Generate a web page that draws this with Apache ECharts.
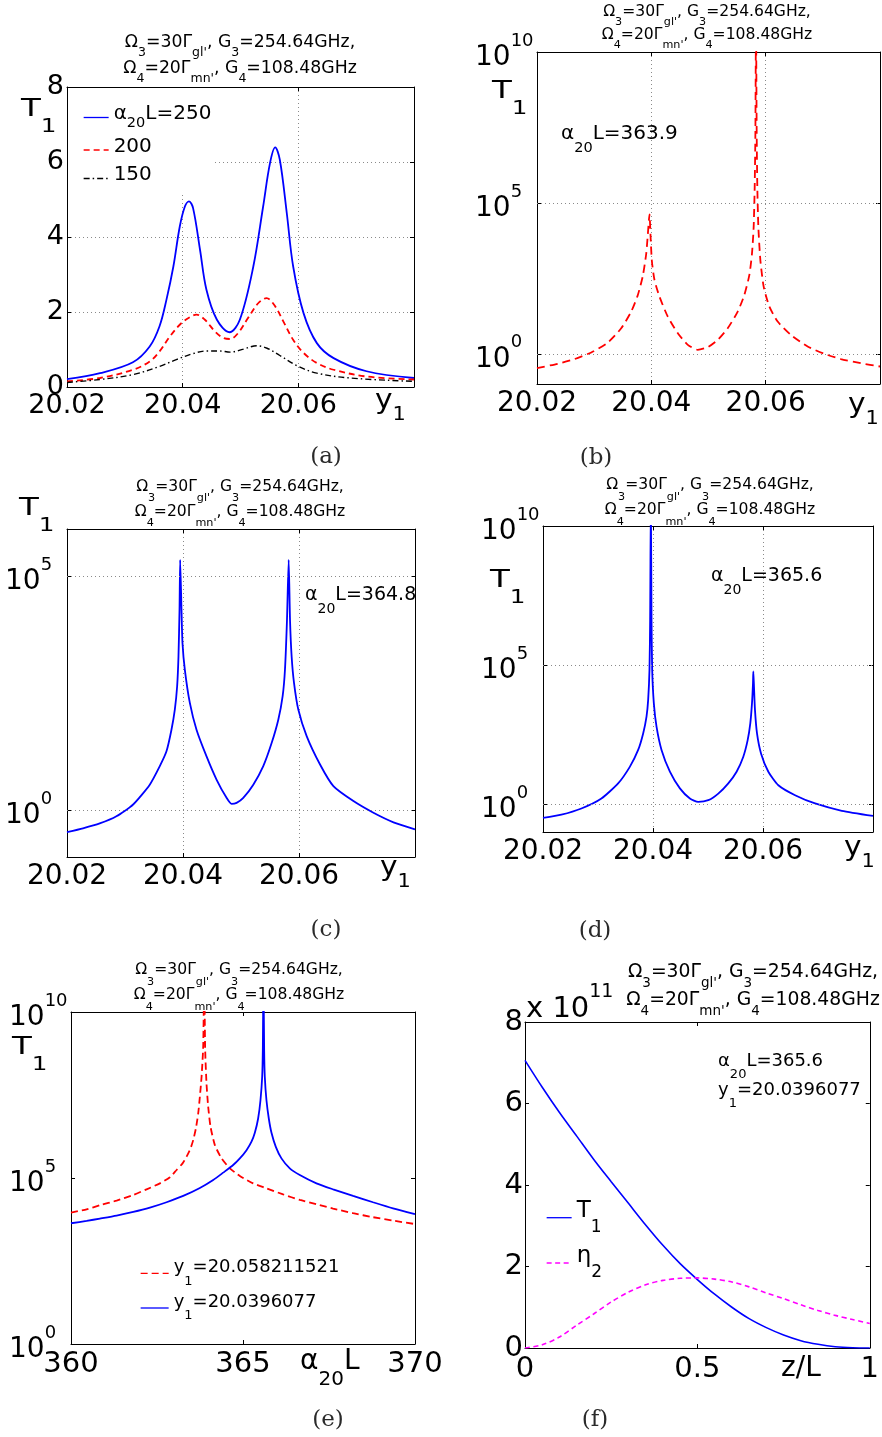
<!DOCTYPE html>
<html><head><meta charset="utf-8">
<script src="https://cdn.jsdelivr.net/npm/echarts@6/dist/echarts.min.js"></script>
<style>html,body{margin:0;padding:0;background:#fff}#c{width:882px;height:1437px}</style>
</head><body><div id="c"></div>
<script>
const FONT = "'DejaVu Sans', sans-serif";
const SERIF = "'DejaVu Serif', serif";

// ===== (a) T1 vs y1, alpha20L = 250 / 200 / 150 (linear) =====
const aX250 = [20.02,20.0257,20.0314,20.0343,20.036,20.0372,20.0384,20.0395,20.0404,20.0411,20.0418,20.043,20.0441,20.0459,20.0481,20.0499,20.0522,20.0539,20.0551,20.056,20.0568,20.058,20.0591,20.0609,20.0632,20.0661,20.0718,20.08];
const aT250 = [0.21,0.37,0.66,1.08,1.62,2.33,3.22,4.28,4.82,4.95,4.77,3.66,2.6,1.8,1.46,1.8,3.2,4.8,5.97,6.39,6.06,4.64,3.22,1.97,1.17,0.77,0.42,0.24];
const aX200 = [20.02,20.0257,20.0314,20.0343,20.036,20.0378,20.0395,20.041,20.0424,20.0438,20.0456,20.047,20.0482,20.0496,20.0513,20.0531,20.0545,20.056,20.0574,20.0591,20.0609,20.0632,20.0661,20.0718,20.08];
const aT200 = [0.15,0.24,0.46,0.68,0.95,1.35,1.66,1.84,1.93,1.8,1.48,1.31,1.28,1.44,1.84,2.24,2.37,2.15,1.75,1.26,0.91,0.64,0.46,0.28,0.2];
const aX150 = [20.02,20.0257,20.0314,20.036,20.0389,20.0418,20.0441,20.0464,20.0482,20.0505,20.0528,20.0545,20.0568,20.06,20.0632,20.0689,20.08];
const aT150 = [0.12,0.2,0.33,0.55,0.73,0.89,0.96,0.96,0.93,1.01,1.1,1.04,0.84,0.55,0.37,0.24,0.15];

// ===== (b) alpha20L = 363.9 (log) =====
const bX = [20.02,20.02367,20.02658,20.02949,20.0324,20.03473,20.03648,20.03764,20.03852,20.0391,20.03939,20.03968,20.03985,20.04009,20.04055,20.04143,20.04288,20.04463,20.04638,20.04812,20.04987,20.05162,20.05336,20.05511,20.05627,20.05715,20.05761,20.0579,20.05808,20.0582,20.05831,20.05843,20.05854,20.05872,20.05907,20.05965,20.06064,20.0621,20.06443,20.06734,20.07025,20.07316,20.07665,20.08];
const bT = [0.336,0.47,0.67,1.11,2.37,7.0,25,89,390,2030,9200,42000,9200,1210,280,78,17,4.8,1.98,1.36,1.66,2.9,7.0,25,89,410,2120,16000,3.4e5,2e7,1e11,2e7,3.4e5,16000,1280,168,37,11.7,4.2,1.75,1.0,0.67,0.49,0.38];

// ===== (c) alpha20L = 364.8 (log) =====
const cX = [20.02,20.02276,20.02564,20.02852,20.0314,20.03427,20.036,20.03715,20.03801,20.03859,20.03899,20.03922,20.0394,20.03951,20.03974,20.03991,20.04032,20.04118,20.04233,20.04406,20.04578,20.04751,20.04837,20.04924,20.05039,20.05212,20.05384,20.05528,20.05643,20.05718,20.05758,20.05793,20.05822,20.05845,20.05873,20.05914,20.05988,20.06132,20.06363,20.06593,20.06938,20.07283,20.07629,20.08];
const cT = [0.34,0.41,0.52,0.74,1.32,3.5,8.7,18,52,140,440,1900,18900,2.2e5,18900,3700,990,194,52,14,4.5,1.83,1.36,1.43,1.83,3.5,8.7,27,85,270,990,11600,2.2e5,11600,1900,520,140,38,9.4,3.25,1.56,0.88,0.55,0.39];

// ===== (d) alpha20L = 365.6 (log) =====
const dX = [20.02,20.02334,20.02698,20.03062,20.03366,20.03578,20.0373,20.03821,20.03882,20.03912,20.03936,20.03948,20.03961,20.03973,20.03985,20.04015,20.04064,20.04155,20.04307,20.04489,20.04671,20.04822,20.05005,20.05187,20.05369,20.0552,20.05642,20.05721,20.05769,20.058,20.05818,20.05824,20.05836,20.05854,20.05891,20.05964,20.06097,20.06279,20.06583,20.06947,20.07433,20.08];
const dT = [0.32,0.42,0.7,1.6,5.6,22,89,350,1410,5600,68000,4.3e6,1e11,4.3e6,68000,4300,610,89,14.7,3.7,1.6,1.21,1.39,2.4,5.6,14.7,51,200,810,4300,22000,59000,17000,2450,350,67,14.7,4.8,2.1,1.06,0.58,0.38];

// ===== (e) T1 vs alpha20L (log) =====
const eXr = [360,360.455,360.842,361.326,361.81,362.197,362.585,362.875,363.069,363.243,363.359,363.475,363.553,363.63,363.698,363.746,363.795,363.843,363.872,363.901,363.939,363.988,364.056,364.182,364.376,364.618,364.908,365.295,365.682,366.167,366.651,367.135,367.619,368.2,368.78,369.361,370];
const eTr = [9100,11400,15100,20800,30800,45600,69000,1.05e5,1.74e5,2.76e5,4.4e5,7.8e5,1.39e6,3.1e6,8.8e6,2.8e7,1.1e8,8.9e8,1e11,7e8,7e7,1.4e7,3.5e6,9.8e5,3.9e5,1.95e5,1.15e5,69000,49000,32000,21800,16100,12000,8700,6600,5200,4100];
const eXb = [360,360.455,360.842,361.326,361.81,362.294,362.778,363.262,363.746,364.134,364.424,364.714,364.908,365.102,365.247,365.344,365.44,365.508,365.557,365.576,365.595,365.615,365.634,365.682,365.75,365.828,365.954,366.118,366.36,366.651,367.135,367.619,368.2,368.78,369.361,370];
const eTb = [4340,5100,6000,7400,9500,12800,18600,28800,50000,87000,1.45e5,2.46e5,3.9e5,6.9e5,1.24e6,2.3e6,6.2e6,2.2e7,1.1e8,7e8,1e11,7e8,1.1e8,2.2e7,6.2e6,2.3e6,8.7e5,3.9e5,1.95e5,1.23e5,69000,45600,28800,18600,12200,8100];

// ===== (f) T1 and eta2 vs z/L (units of 1e11) =====
const fZ = [0,0.05,0.1,0.15,0.2,0.25,0.3,0.35,0.4,0.45,0.5,0.55,0.6,0.65,0.7,0.75,0.8,0.85,0.9,0.95,1.0];
const fT1 = [7.06,6.4,5.78,5.2,4.62,4.08,3.55,3.02,2.52,2.07,1.68,1.32,1.0,0.72,0.5,0.32,0.18,0.09,0.03,0.005,0];
const fEta = [0,0.08,0.27,0.56,0.84,1.13,1.37,1.55,1.66,1.71,1.72,1.69,1.62,1.5,1.35,1.21,1.06,0.92,0.8,0.7,0.6];

// tick labels shown on log axes
const logLab10 = [1,1e5,1e10], logLab6 = [1,1e5];

const zip = (xs, ys) => xs.map((x, i) => [x, ys[i]]);

const GRID_LINE = {type:[1,3], color:'#8a8a8a', width:1};
const AX_LINE = {show:true, onZero:false, lineStyle:{color:'#000', width:1}};
const TICK = {show:true, inside:true, length:4, lineStyle:{color:'#000'}};

const grids = [
  {left:67, top:87, width:347, height:300},
  {left:537, top:52, width:343, height:332},
  {left:67, top:529, width:348, height:328},
  {left:543, top:526, width:330, height:306},
  {left:71, top:1012, width:344, height:332},
  {left:525, top:1022, width:349, height:326}
];

const xAxis = [], yAxis = [];
function xPair(gi, min, max, interval, fs, margin, fmt, showMax, split) {
  xAxis.push({gridIndex:gi, type:'value', position:'bottom', min, max, interval,
    axisLine:AX_LINE, axisTick:TICK,
    axisLabel:{show:true, fontFamily:FONT, fontSize:fs, color:'#000', margin, formatter:fmt, showMinLabel:true, showMaxLabel:showMax},
    splitLine:{show:split, lineStyle:GRID_LINE}});
  xAxis.push({gridIndex:gi, type:'value', position:'top', min, max, interval,
    axisLine:AX_LINE, axisTick:TICK, axisLabel:{show:false}, splitLine:{show:false}});
}
function yLinPair(gi, fs, margin, split) {
  yAxis.push({gridIndex:gi, type:'value', position:'left', min:0, max:8, interval:2,
    axisLine:AX_LINE, axisTick:TICK,
    axisLabel:{show:true, fontFamily:FONT, fontSize:fs, color:'#000', margin},
    splitLine:{show:split, lineStyle:GRID_LINE}});
  yAxis.push({gridIndex:gi, type:'value', position:'right', min:0, max:8, interval:2,
    axisLine:AX_LINE, axisTick:TICK, axisLabel:{show:false}, splitLine:{show:false}});
}
function yLogPair(gi, min, max, labVals, fs, sfs, margin) {
  const rich = {
    b:{fontFamily:FONT, fontSize:fs, color:'#000', lineHeight:40, verticalAlign:'bottom'},
    s:{fontFamily:FONT, fontSize:sfs, color:'#000', lineHeight:40, verticalAlign:'top'}
  };
  yAxis.push({gridIndex:gi, type:'log', logBase:10, position:'left', min, max,
    axisLine:AX_LINE, axisTick:Object.assign({customValues:labVals}, TICK),
    axisLabel:{show:true, customValues:labVals, align:'left', margin,
      formatter: v => '{b|10}{s|' + Math.round(Math.log10(v)) + '}', rich},
    splitLine:{show:false}, minorTick:{show:false}, minorSplitLine:{show:false}});
  yAxis.push({gridIndex:gi, type:'log', logBase:10, position:'right', min, max,
    axisLine:AX_LINE, axisTick:Object.assign({customValues:labVals}, TICK),
    axisLabel:{show:false}, splitLine:{show:false}});
}
const fmt2 = v => v.toFixed(2);
xPair(0, 20.02, 20.08, 0.02, 27, 5, fmt2, false, true);   yLinPair(0, 27, 3, true);
xPair(1, 20.02, 20.08, 0.02, 28, 6, fmt2, false, true);   yLogPair(1, 0.1, 1e10, logLab10, 28, 18, 62);
xPair(2, 20.02, 20.08, 0.02, 28, 6, fmt2, false, true);   yLogPair(2, 0.1, 1e6, logLab6, 28, 18, 62);
xPair(3, 20.02, 20.08, 0.02, 28, 6, fmt2, false, true);   yLogPair(3, 0.1, 1e10, logLab10, 28, 18, 62);
xPair(4, 360, 370, 5, 29, 6, v => String(v), true, false); yLogPair(4, 1, 1e10, logLab10, 28, 18, 62);
xPair(5, 0, 1, 0.5, 29, 7, v => String(v), true, false);  yLinPair(5, 29, 2, false);

const gridML = {silent:true, symbol:['none','none'], label:{show:false}, animation:false,
  lineStyle:{type:[1,3], color:'#8a8a8a', width:1}, emphasis:{disabled:true},
  data:[{yAxis:1},{yAxis:100000}]};

function ln(name, gi, data, color, type, width, smooth, extra) {
  return Object.assign({type:'line', name, xAxisIndex:2*gi, yAxisIndex:2*gi, data,
    symbol:'none', showSymbol:false, smooth: smooth || false,
    lineStyle:{color, width, type}, itemStyle:{color}, clip:true, animation:false, z:3,
    emphasis:{disabled:true}}, extra || {});
}
const series = [
  ln('a250', 0, zip(aX250, aT250), '#0000ff', 'solid', 1.8, 0.35),
  ln('a200', 0, zip(aX200, aT200), '#ff0000', [6,4], 1.8, 0.35),
  ln('a150', 0, zip(aX150, aT150), '#000000', [6,3,1.5,3], 1.4, 0.35),
  ln('b', 1, zip(bX, bT), '#ff0000', [8,5], 1.8, 0.2, {markLine:gridML}),
  ln('c', 2, zip(cX, cT), '#0000ff', 'solid', 1.8, 0.2, {markLine:gridML}),
  ln('d', 3, zip(dX, dT), '#0000ff', 'solid', 1.8, 0.2, {markLine:gridML}),
  ln('e1', 4, zip(eXr, eTr), '#ff0000', [7,4], 1.8, 0.2),
  ln('e2', 4, zip(eXb, eTb), '#0000ff', 'solid', 1.8, 0.2),
  ln('fT', 5, zip(fZ, fT1), '#0000ff', 'solid', 1.6, 0.3),
  ln('fE', 5, zip(fZ, fEta), '#ff00ff', [5,3.5], 1.6, 0.3)
];

const LEG = {
  a250:'{t|α}{u|20}{t|L=250}', a200:'{t|200}', a150:'{t|150}',
  e1:'{t|y}{u|1}{t|=20.058211521}', e2:'{t|y}{u|1}{t|=20.0396077}',
  fT:'{t|T}{u|1}', fE:'{t|η}{u|2}'
};
function legRich(B, S, L) {
  return {fontFamily:FONT, fontSize:B, color:'#000', rich:{
    t:{fontFamily:FONT, fontSize:B, lineHeight:L, verticalAlign:'top', color:'#000'},
    u:{fontFamily:FONT, fontSize:S, lineHeight:L, verticalAlign:'bottom', color:'#000'}}};
}
function leg(name, left, top, w, B, S, L) {
  return {orient:'vertical', selectedMode:false, formatter: n => LEG[n], itemHeight:10, itemWidth:w,
    itemStyle:{opacity:0}, lineStyle:{width:1.3}, z:6, left, top, padding:0, data:[name], textStyle:legRich(B, S, L)};
}
const legend = [
  leg('a250', 83, 104, 25, 20, 14.5, 27),
  leg('a200', 83, 136.5, 25, 20, 14.5, 27),
  leg('a150', 83, 165, 25, 20, 14.5, 27),
  leg('e1', 140, 1258.8, 28, 18, 13, 29),
  leg('e2', 140, 1293.5, 28, 18, 13, 29),
  leg('fT', 546, 1199.7, 25, 23, 17, 36),
  leg('fE', 546, 1245, 25, 23, 17, 36)
];

// ---- text helpers (graphic) ----
function subText(x, top, text, B, S, L, align, sx) {
  return {type:'text', x, y:top, z:100, silent:true, scaleX: sx || 1, style:{text, align:align||'left', verticalAlign:'top',
    textAlign:align||'left', textVerticalAlign:'top', fill:'#000', fontFamily:FONT, fontSize:B,
    rich:{t:{fontFamily:FONT, fontSize:B, lineHeight:L, verticalAlign:'top', fill:'#000'},
          u:{fontFamily:FONT, fontSize:S, lineHeight:L, verticalAlign:'bottom', fill:'#000'}}}};
}
function supText(x, top, text, B, S, L) {
  return {type:'text', x, y:top, z:100, silent:true, style:{text, align:'left', verticalAlign:'top',
    textAlign:'left', textVerticalAlign:'top', fill:'#000', fontFamily:FONT, fontSize:B,
    rich:{b:{fontFamily:FONT, fontSize:B, lineHeight:L, verticalAlign:'bottom', fill:'#000'},
          s:{fontFamily:FONT, fontSize:S, lineHeight:L, verticalAlign:'top', fill:'#000'}}}};
}
const TITLE = "{t|Ω}{u|3}{t|=30Γ}{u|gl'}{t|, G}{u|3}{t|=254.64GHz,}\n{t|Ω}{u|4}{t|=20Γ}{u|mn'}{t|, G}{u|4}{t|=108.48GHz}";
function title(cx, line1c, B, S, L) { return subText(cx, line1c - B/2, TITLE, B, S, L, 'center'); }
function caption(cx, cy, t) {
  return {type:'text', x:cx, y:cy, z:100, silent:true, style:{text:t, align:'center', verticalAlign:'middle',
    textAlign:'center', textVerticalAlign:'middle', fill:'#2a2a2a', fontFamily:SERIF, fontSize:23}};
}
const T1 = '{t|T}{u|1}', Y1 = '{t|y}{u|1}';
const graphic = [
  // white legend background in (a)
  {type:'rect', z:1, silent:true, shape:{x:68, y:88, width:145, height:105}, style:{fill:'#fff'}},
  title(240, 42.7, 17.3, 12.5, 25.6),
  title(707, 11.7, 15.6, 11.2, 23.5),
  title(240, 486.7, 15.6, 11.2, 25),
  title(710, 485, 15.6, 11.2, 25),
  title(239, 970, 15.6, 11.2, 25),
  title(753, 971.7, 18.8, 13.5, 28.3),
  subText(21, 109 - 12.5, T1, 25, 19, 40, 'left', 1.3),
  subText(492, 91 - 12.5, T1, 25, 19, 40, 'left', 1.3),
  subText(19, 508 - 12.5, T1, 25, 19, 40, 'left', 1.3),
  subText(490, 580 - 12.5, T1, 25, 19, 40, 'left', 1.3),
  subText(12, 1047.5 - 12.5, T1, 25, 19, 40, 'left', 1.3),
  subText(375, 401 - 13.5, Y1, 27, 19, 37, 'left', 1.1),
  subText(848, 405 - 13.5, Y1, 27, 19, 37, 'left', 1.1),
  subText(380, 868 - 13.5, Y1, 27, 19, 37, 'left', 1.1),
  subText(844, 848 - 13.5, Y1, 27, 19, 37, 'left', 1.1),
  subText(300, 1362 - 14, '{t|α}{u|20}{t|L}', 28, 20, 42),
  subText(781, 1369 - 14, '{t|z/L}', 28, 20, 30),
  subText(561, 133.3 - 10, '{t|α}{u|20}{t|L=363.9}', 20, 14.5, 32),
  subText(305, 595 - 9.5, '{t|α}{u|20}{t|L=364.8}', 19, 14, 31),
  subText(711, 576 - 9.5, '{t|α}{u|20}{t|L=365.6}', 19, 14, 31),
  subText(718, 1061.7 - 9, '{t|α}{u|20}{t|L=365.6}\n{t|y}{u|1}{t|=20.0396077}', 18, 13, 28.5),
  supText(526, 1008.3 - 25.5, '{b|x 10}{s|11}', 29, 19, 41),
  caption(326, 457, '(a)'), caption(596, 458, '(b)'),
  caption(326, 930, '(c)'), caption(595, 931, '(d)'),
  caption(328, 1420, '(e)'), caption(595, 1420, '(f)')
];

const chart = echarts.init(document.getElementById('c'), null, {renderer:'canvas'});
chart.setOption({animation:false, backgroundColor:'#fff', grid:grids, xAxis, yAxis, series, legend, graphic});
</script></body></html>
